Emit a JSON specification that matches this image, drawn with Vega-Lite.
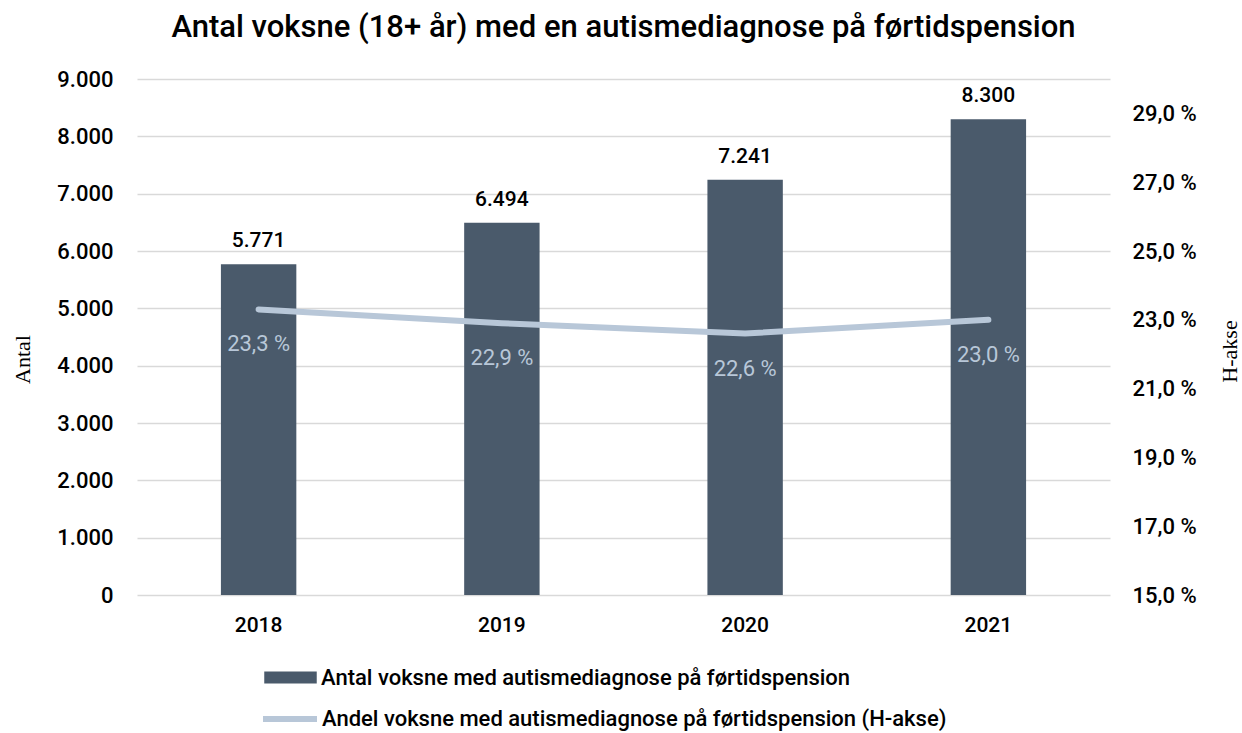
{
"$schema": "https://vega.github.io/schema/vega-lite/v6.json",
"autosize": {"type": "none"},
"padding": {"left": 137, "top": 79, "right": 132, "bottom": 138},
"width": 973,
"height": 516,
"title": {"text": "Antal voksne (18+ år) med en autismediagnose på førtidspension", "fontSize": 31, "font": "Roboto", "fontWeight": 500, "color": "#000000", "anchor": "middle", "offset": 24},
"config": {
  "locale": {"number": {"decimal": ",", "thousands": ".", "grouping": [3], "currency": ["", " kr."]}},
  "view": {"stroke": null},
  "font": "Roboto",
  "axis": {"labelFont": "Roboto", "labelFontSize": 22, "labelFontWeight": 500, "labelColor": "#000000", "domain": false, "ticks": false, "titleFont": "Liberation Serif", "titleFontSize": 22, "titleFontWeight": "normal", "titleColor": "#000000"},
  "legend": {"labelFont": "Roboto", "labelFontSize": 22, "labelFontWeight": 500, "labelColor": "#000000", "padding": 0, "labelLimit": 900}
},
"data": {"values": [
  {"year": "2018", "antal": 5771, "andel": 23.3},
  {"year": "2019", "antal": 6494, "andel": 22.9},
  {"year": "2020", "antal": 7241, "andel": 22.6},
  {"year": "2021", "antal": 8300, "andel": 23.0}
]},
"layer": [
  {
    "layer": [
      {
        "mark": {"type": "bar", "color": "#4a5a6b"},
        "encoding": {
          "x": {"field": "year", "type": "nominal", "title": null, "scale": {"paddingInner": 0.69, "paddingOuter": 0.345}, "axis": {"labelAngle": 0, "labelPadding": 19, "labelFontSize": 21}},
          "y": {"field": "antal", "type": "quantitative", "scale": {"domain": [0, 9000], "nice": false}, "axis": {"title": "Antal", "values": [0, 1000, 2000, 3000, 4000, 5000, 6000, 7000, 8000, 9000], "format": ",d", "grid": true, "gridColor": "#d9d9d9", "gridWidth": 1.5, "labelPadding": 24, "titleX": -115, "titleY": 280, "titleBaseline": "middle", "titleAngle": 270}},
          "fill": {"datum": "Antal voksne med autismediagnose på førtidspension", "scale": {"range": ["#4a5a6b"]}, "legend": {"title": null, "orient": "none", "legendX": 127, "legendY": 572, "symbolType": "M-1,-0.23H1V0.23H-1Z", "symbolSize": 2756, "symbolStrokeWidth": 0, "labelOffset": 4}}
        }
      },
      {
        "mark": {"type": "text", "baseline": "alphabetic", "dy": -17, "fontSize": 21, "fontWeight": 500, "color": "#000000", "font": "Roboto"},
        "encoding": {
          "x": {"field": "year", "type": "nominal"},
          "y": {"field": "antal", "type": "quantitative"},
          "text": {"field": "antal", "type": "quantitative", "format": ",d"}
        }
      }
    ]
  },
  {
    "layer": [
      {
        "mark": {"type": "line", "strokeWidth": 6, "strokeCap": "round", "color": "#b8c7d8"},
        "encoding": {
          "x": {"field": "year", "type": "nominal"},
          "y": {"field": "andel", "type": "quantitative", "scale": {"domain": [15, 30], "nice": false}, "axis": {"orient": "right", "title": "H-akse", "values": [15, 17, 19, 21, 23, 25, 27, 29], "labelExpr": "replace(format(datum.value, '.1f'), '.', ',') + ' %'", "grid": false, "labelPadding": 22, "titleX": 119, "titleY": 272, "titleBaseline": "middle", "titleAngle": 270}},
          "stroke": {"datum": "Andel voksne med autismediagnose på førtidspension (H-akse)", "scale": {"range": ["#b8c7d8"]}, "legend": {"title": null, "orient": "none", "legendX": 123, "legendY": 610, "symbolType": "stroke", "symbolSize": 2916, "symbolStrokeWidth": 6, "labelOffset": 2}}
        }
      },
      {
        "mark": {"type": "text", "baseline": "alphabetic", "dy": 42, "fontSize": 22, "fontWeight": 400, "color": "#b8c7d8", "font": "Roboto", "text": {"expr": "replace(format(datum.andel, '.1f'), '.', ',') + ' %'"}},
        "encoding": {
          "x": {"field": "year", "type": "nominal"},
          "y": {"field": "andel", "type": "quantitative"}
        }
      }
    ]
  }
],
"resolve": {"scale": {"y": "independent", "fill": "independent", "stroke": "independent"}}
}
